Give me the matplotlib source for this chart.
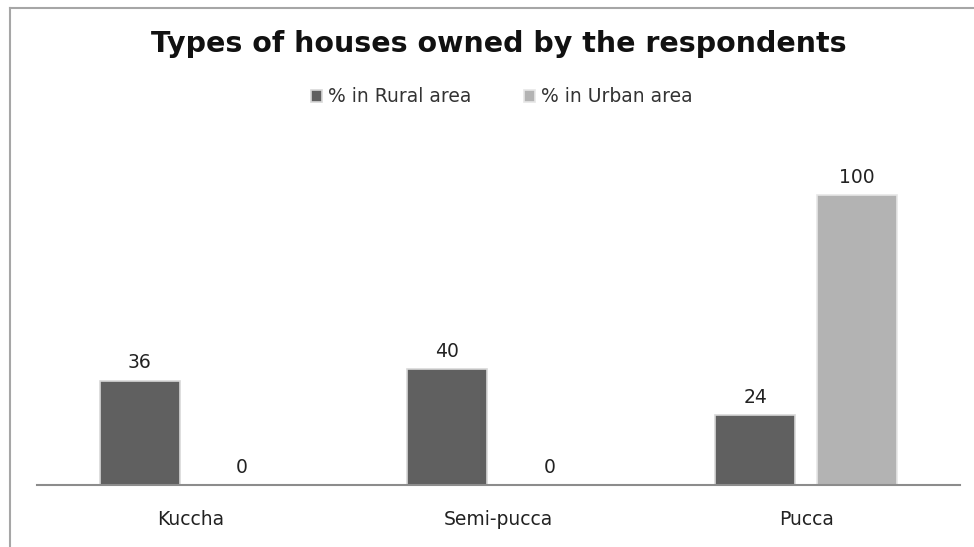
import numpy as np
import matplotlib.pyplot as plt
from matplotlib.lines import Line2D

categories = ["Kuccha", "Semi-pucca", "Pucca"]
rural = [36, 40, 24]
urban = [0, 0, 100]
series_names = ["% in Rural area", "% in Urban area"]

RURAL_COLOR = "#606060"
URBAN_COLOR = "#b3b3b3"
TEXT_COLOR = "#222222"

fig = plt.figure(figsize=(9.74, 5.47), dpi=100)
ax = fig.add_axes([0.038, 0.1133, 0.9476, 0.636])

x = np.arange(len(categories))
w = 0.26
off = 0.166
b1 = ax.bar(x - off, rural, w, color=RURAL_COLOR, edgecolor="#d8d8d8", linewidth=1.2,
            label=series_names[0])
b2 = ax.bar(x + off, urban, w, color=URBAN_COLOR, edgecolor="#e6e6e6", linewidth=1.2,
            label=series_names[1])

# value labels above each bar
for bars in (b1, b2):
    for rect in bars:
        h = rect.get_height()
        ax.annotate(f"{h:g}", (rect.get_x() + rect.get_width() / 2, h),
                    xytext=(0, 6), textcoords="offset points", ha="center", va="bottom",
                    fontsize=13.5, color=TEXT_COLOR)

ax.set_xlim(-0.5, 2.5)
ax.set_ylim(0, 120)
ax.set_yticks([])
ax.set_xticks(x)
ax.set_xticklabels(categories, fontsize=13.5, color=TEXT_COLOR)
ax.tick_params(axis="x", length=0, pad=18)
for s in ("top", "right", "left"):
    ax.spines[s].set_visible(False)
ax.spines["bottom"].set_color("#8c8c8c")
ax.spines["bottom"].set_linewidth(1.5)

fig.text(0.512, 0.919, "Types of houses owned by the respondents", ha="center", va="center",
         fontsize=20.5, fontweight="bold", color="#111111")

fig.legend(handles=[b1, b2], labels=series_names, loc="center", bbox_to_anchor=(0.515, 0.823),
           ncol=2, frameon=False, fontsize=13.5, handlelength=0.6, handleheight=0.6,
           handletextpad=0.3, columnspacing=2.8, labelcolor="#333333")

# outer frame (left and top edges)
fig.add_artist(Line2D([10 / 974, 10 / 974], [0, 1 - 8 / 547], color="#a6a6a6", lw=1.5))
fig.add_artist(Line2D([10 / 974, 1], [1 - 8 / 547, 1 - 8 / 547], color="#a6a6a6", lw=1.5))

fig.savefig("out.png", dpi=100)
